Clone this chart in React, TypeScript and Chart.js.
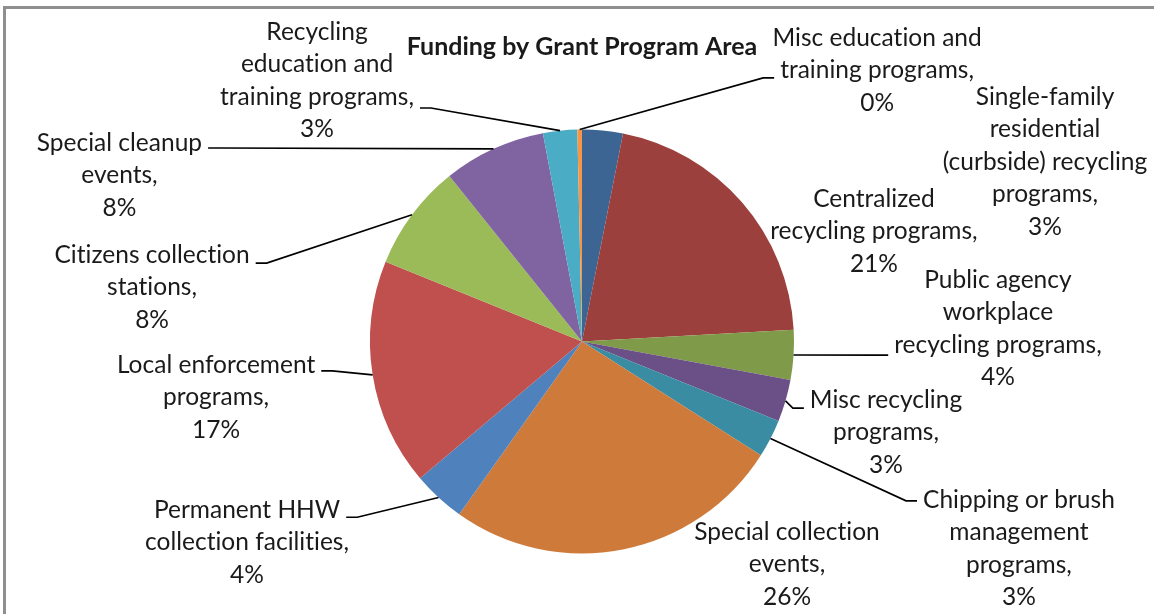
import React, { useEffect, useRef } from "react";
import { Chart, registerables } from "chart.js";

Chart.register(...registerables);

// ---------------- data ----------------
const TITLE = "Funding by Grant Program Area";

const categories: string[][] = [
  ["Single-family", "residential", "(curbside) recycling", "programs"],
  ["Centralized", "recycling programs"],
  ["Public agency", "workplace", "recycling programs"],
  ["Misc recycling", "programs"],
  ["Chipping or brush", "management", "programs"],
  ["Special collection", "events"],
  ["Permanent HHW", "collection facilities"],
  ["Local enforcement", "programs"],
  ["Citizens collection", "stations"],
  ["Special cleanup", "events"],
  ["Recycling", "education and", "training programs"],
  ["Misc education and", "training programs"],
];

const values: number[] = [3.1, 21.0, 3.8, 3.2, 2.9, 25.8, 4.0, 17.3, 8.1, 7.8, 2.6, 0.35];

const colors: string[] = [
  "#3C6594",
  "#9C403D",
  "#7F9A48",
  "#6A5086",
  "#3A8CA3",
  "#CD7A3A",
  "#4F81BD",
  "#C0504D",
  "#9BBB59",
  "#8064A2",
  "#4BACC6",
  "#F79646",
];

// ---------------- label layout (relative to pie centre, in radius units) ----------------
// fx, fy: centre of first text line; ky: leader anchor in line units (null = no leader)
const labelFx: number[] = [2.184, 1.377, 1.962, 1.434, 2.061, 0.967, -1.58, -1.726, -2.028, -2.182, -1.25, 1.392];
const labelFy: number[] = [-1.153, -0.672, -0.29, 0.276, 0.747, 0.899, 0.795, 0.111, -0.408, -0.936, -1.46, -1.432];
const labelKy: (number | null)[] = [null, null, 2.31, 0.25, 0.03, null, 0.22, 0.18, 0.25, 0.15, 2.34, 1.23];

const FONT = "Lato, 'Open Sans', sans-serif";
const LABEL_SIZE = 24.5;
const TITLE_SIZE = 25;
const LINE_H = 32.5;
const GAP = 6;
const STUB = 11;

const frame = {
  id: "frame",
  beforeDraw(chart: any) {
    const { ctx, width, height } = chart;
    ctx.save();
    ctx.fillStyle = "#ffffff";
    ctx.fillRect(0, 0, width, height);
    ctx.strokeStyle = "#8f8f8f";
    ctx.lineWidth = 3;
    ctx.strokeRect(4.5, 7.5, width + 20, height + 20);
    ctx.restore();
  },
};

const outsideLabels = {
  id: "outsideLabels",
  afterDatasetsDraw(chart: any) {
    const { ctx } = chart;
    const meta = chart.getDatasetMeta(0);
    const total = values.reduce((a, b) => a + b, 0);
    ctx.save();
    ctx.font = `${LABEL_SIZE}px ${FONT}`;
    try {
      (ctx as any).letterSpacing = "0.01px";
    } catch (e) {
      /* ignore */
    }
    ctx.textBaseline = "middle";
    ctx.textAlign = "center";
    ctx.strokeStyle = "#000000";
    ctx.lineWidth = 1.6;
    meta.data.forEach((el: any, i: number) => {
      const p = el.getProps(["x", "y", "startAngle", "endAngle", "outerRadius"], true);
      const lines = categories[i].slice();
      lines[lines.length - 1] += ",";
      lines.push(`${Math.round((values[i] / total) * 100)}%`);
      const lx = p.x + labelFx[i] * p.outerRadius;
      const ly = p.y + labelFy[i] * p.outerRadius;
      const ky = labelKy[i];
      if (ky !== null) {
        const mid = (p.startAngle + p.endAngle) / 2;
        const ax = p.x + Math.cos(mid) * p.outerRadius;
        const ay = p.y + Math.sin(mid) * p.outerRadius;
        const li = Math.round(ky);
        const w = ctx.measureText(lines[li]).width;
        const dir = ax < lx ? -1 : 1;
        const ex = lx + dir * (w / 2 + GAP);
        const ey = ly + ky * LINE_H;
        const sx = ex + dir * STUB;
        ctx.beginPath();
        ctx.moveTo(ax, ay);
        ctx.lineTo(sx, ey);
        ctx.lineTo(ex, ey);
        ctx.stroke();
      }
      ctx.fillStyle = "#1a1a1a";
      lines.forEach((t, j) => ctx.fillText(t, lx, ly + j * LINE_H));
    });
    ctx.restore();
  },
};

export default function App() {
  const canvasRef = useRef<HTMLCanvasElement | null>(null);

  useEffect(() => {
    if (!canvasRef.current) return;
    const chart = new Chart(canvasRef.current, {
      type: "pie",
      data: {
        labels: categories.map((c) => c.join(" ")),
        datasets: [
          {
            data: values,
            backgroundColor: colors,
            borderWidth: 0,
          },
        ],
      },
      options: {
        responsive: false,
        animation: false,
        devicePixelRatio: 1,
        events: [],
        layout: { padding: { left: 370, right: 360, top: 10, bottom: 60.5 } },
        plugins: {
          legend: { display: false },
          tooltip: { enabled: false },
          title: {
            display: true,
            text: TITLE,
            color: "#1a1a1a",
            font: { family: FONT, size: TITLE_SIZE, weight: "bold", lineHeight: 1.2 },
            padding: { top: 22, bottom: 67.5 },
          },
        },
      },
      plugins: [frame, outsideLabels],
    });
    return () => chart.destroy();
  }, []);

  return (
    <div style={{ position: "fixed", left: 0, top: 0, width: 1154, height: 614, background: "#fff" }}>
      <canvas ref={canvasRef} width={1154} height={614} style={{ display: "block" }} />
    </div>
  );
}
